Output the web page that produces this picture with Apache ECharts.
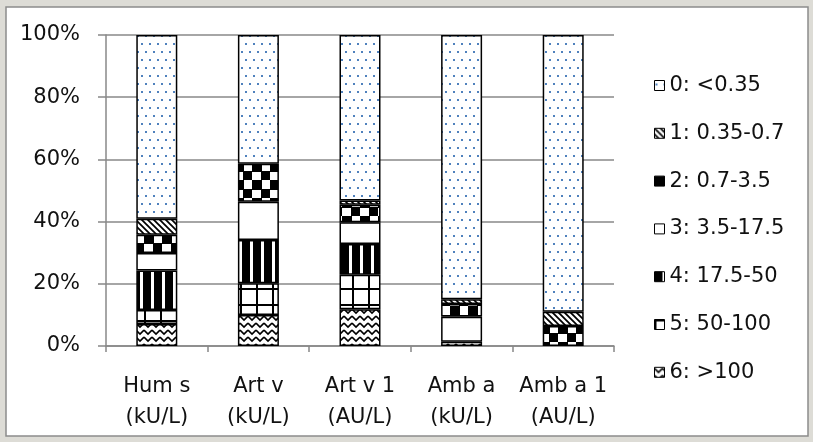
<!DOCTYPE html>
<html><head><meta charset="utf-8">
<script src="https://cdn.jsdelivr.net/npm/echarts@6/dist/echarts.min.js"></script>
<style>html,body{margin:0;padding:0;background:#dddcd6;}#c{width:813px;height:442px;}</style>
</head><body><div id="c"></div>
<script>
const categories = ["Hum s\n(kU/L)", "Art v\n(kU/L)", "Art v 1\n(AU/L)", "Amb a\n(kU/L)", "Amb a 1\n(AU/L)"];
const seriesNames = ["0: <0.35", "1: 0.35-0.7", "2: 0.7-3.5", "3: 3.5-17.5", "4: 17.5-50", "5: 50-100", "6: >100"];
const s0 = [59.1, 41.4, 53.2, 85.0, 89.0];
const s1 = [5.1, 0, 1.4, 1.5, 4.6];
const s2 = [5.9, 12.2, 5.6, 4.1, 6.4];
const s3 = [5.6, 12.3, 7.0, 8.0, 0];
const s4 = [12.7, 13.9, 9.9, 0, 0];
const s5 = [4.5, 10.2, 11.1, 0, 0];
const s6 = [7.1, 10.0, 11.8, 1.4, 0];
const yTicks = [0, 20, 40, 60, 80, 100];

function mk(w, h, draw) {
  const c = document.createElement('canvas');
  c.width = w; c.height = h;
  const g = c.getContext('2d');
  g.fillStyle = '#fff'; g.fillRect(0, 0, w, h);
  g.fillStyle = '#000'; g.strokeStyle = '#000';
  draw(g);
  return { image: c, repeat: 'repeat' };
}
const patterns = [
  mk(8, 16, g => { g.fillStyle = '#4f81bd'; g.fillRect(1, 3, 2, 2); g.fillRect(5, 11, 2, 2); }),
  mk(6, 6, g => { g.lineWidth = 1.7; g.beginPath(); g.moveTo(-1, -1); g.lineTo(7, 7); g.moveTo(-4, 2); g.lineTo(4, 10); g.moveTo(2, -4); g.lineTo(10, 4); g.stroke(); }),
  mk(18, 18, g => { g.fillRect(0, 0, 10, 10); g.fillRect(9, 9, 10, 10); }),
  mk(4, 4, g => {}),
  mk(11, 4, g => { g.fillRect(0, 0, 8, 4); }),
  mk(16, 16, g => { g.fillRect(0, 0, 16, 2); g.fillRect(0, 0, 2, 16); }),
  mk(8, 7, g => { g.lineWidth = 1.6; g.beginPath(); g.moveTo(0, 1); g.lineTo(4, 5); g.lineTo(8, 1); g.stroke(); })
];
const values = [s0, s1, s2, s3, s4, s5, s6];
const FONT = 'DejaVu Sans';
const FS = 21;

const series = [];
for (let i = 6; i >= 0; i--) {
  series.push({
    name: seriesNames[i], type: 'bar', stack: 'all', barWidth: 41,
    data: values[i].map(v => v === 0 ? '-' : v),
    itemStyle: { color: patterns[i], borderColor: '#000', borderWidth: 1.5 },
    emphasis: { disabled: true }
  });
}

const chart = echarts.init(document.getElementById('c'), null, { renderer: 'canvas' });
chart.setOption({
  animation: false,
  backgroundColor: '#dddcd6',
  graphic: [{ type: 'rect', z: -10, shape: { x: 6, y: 7, width: 802, height: 429 }, style: { fill: '#fff', stroke: '#8c8c8c', lineWidth: 1.5 } }],
  grid: { left: 106, right: 199, top: 35, bottom: 96 },
  legend: {
    orient: 'vertical', left: 649, top: 70, itemGap: 26.8,
    itemWidth: 10, itemHeight: 10, icon: 'rect',
    data: seriesNames,
    itemStyle: { borderColor: '#000', borderWidth: 1 },
    textStyle: { fontFamily: FONT, fontSize: FS, color: '#111', lineHeight: 21 }
  },
  xAxis: {
    type: 'category', data: categories,
    axisLine: { lineStyle: { color: '#888', width: 1.5 } },
    axisTick: { show: true, length: 6, lineStyle: { color: '#888', width: 1.5 } },
    axisLabel: { interval: 0, fontFamily: FONT, fontSize: FS, color: '#111', lineHeight: 31, margin: 25 }
  },
  yAxis: {
    type: 'value', min: 0, max: 100, interval: 20,
    axisLine: { show: true, lineStyle: { color: '#888', width: 1.5 } },
    axisTick: { show: true, length: 8, lineStyle: { color: '#888', width: 1.5 } },
    splitLine: { lineStyle: { color: '#888', width: 1.5 } },
    axisLabel: { fontFamily: FONT, fontSize: FS, color: '#111', margin: 26, formatter: v => yTicks.includes(v) ? v + '%' : '' }
  },
  series: series
});
</script></body></html>
